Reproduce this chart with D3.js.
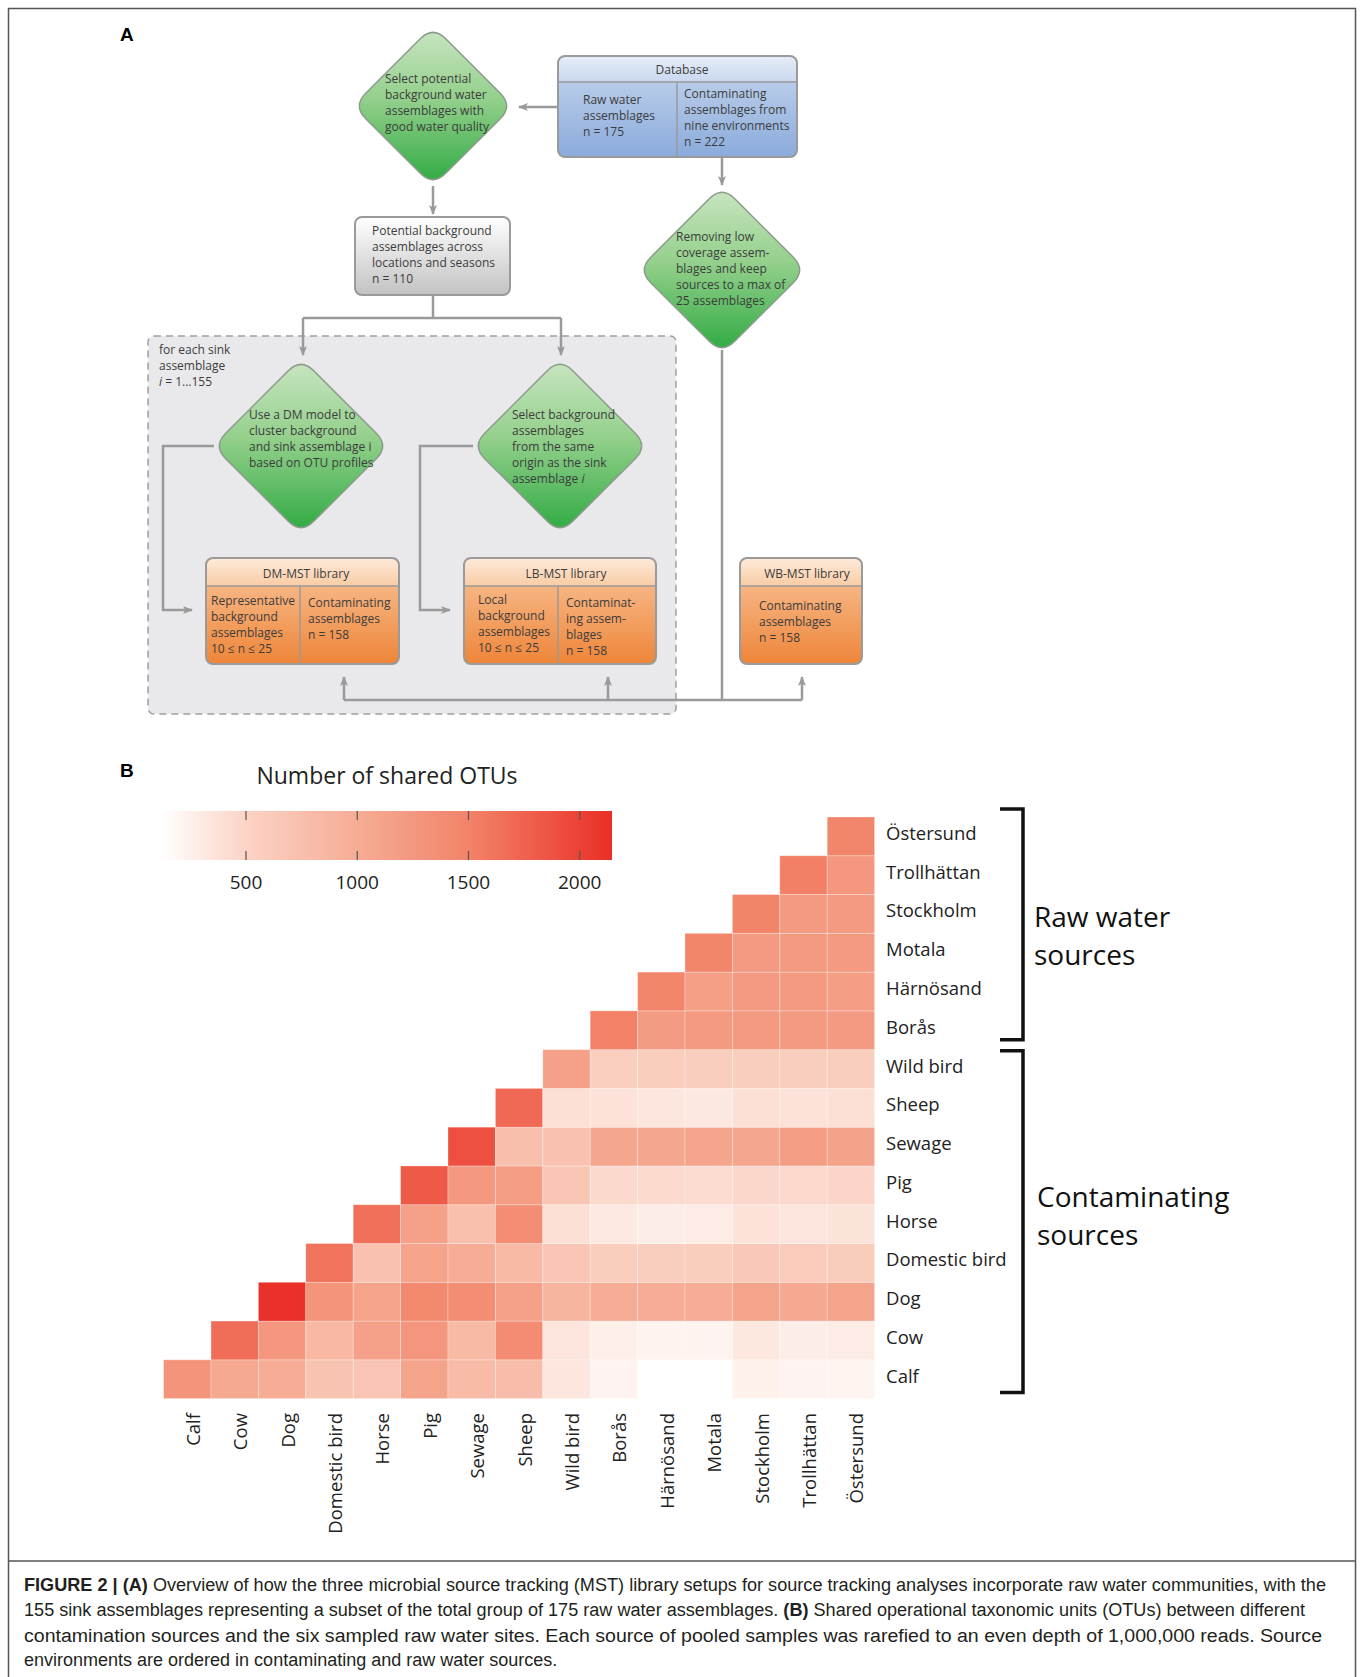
<!DOCTYPE html>
<html>
<head>
<meta charset="utf-8">
<script src="https://cdn.jsdelivr.net/npm/d3@7"></script>
<style>
  html, body { margin: 0; padding: 0; background: #fff; }
  svg { display: block; }
</style>
</head>
<body>
<svg id="fig" width="1360" height="1677"></svg>
<script>
// Sources, in the order used on both axes (bottom-left to top-right)
var SOURCES = ["Calf", "Cow", "Dog", "Domestic bird", "Horse", "Pig", "Sewage",
    "Sheep", "Wild bird", "Borås", "Härnösand", "Motala", "Stockholm",
    "Trollhättan", "Östersund"];

// Shared OTUs: each row starts at its own diagonal and runs to Östersund
var SHARED_CALF = [1290, 1040, 1000, 705, 690, 1100, 810, 785, 335, 220, 118, 118, 240, 220, 215];
var SHARED_COW = [1670, 1260, 845, 1150, 1275, 830, 1400, 350, 260, 225, 225, 320, 270, 290];
var SHARED_DOG = [2120, 1300, 1110, 1425, 1390, 1150, 900, 1000, 1000, 1000, 1100, 1050, 1100];
var SHARED_DOMESTIC_BIRD = [1630, 715, 1110, 1000, 820, 680, 580, 570, 580, 640, 600, 590];
var SHARED_HORSE = [1650, 1140, 750, 1375, 390, 310, 270, 280, 370, 340, 360];
var SHARED_PIG = [1815, 1250, 1190, 665, 450, 440, 420, 470, 460, 480];
var SHARED_SEWAGE = [1890, 760, 715, 1080, 1080, 1090, 1080, 1190, 1120];
var SHARED_SHEEP = [1700, 390, 370, 335, 315, 390, 370, 390];
var SHARED_WILD_BIRD = [1150, 550, 580, 560, 560, 570, 560];
var SHARED_BORAS = [1520, 1200, 1230, 1230, 1230, 1220];
var SHARED_HARNOSAND = [1490, 1160, 1220, 1230, 1180];
var SHARED_MOTALA = [1480, 1220, 1230, 1230];
var SHARED_STOCKHOLM = [1500, 1230, 1230];
var SHARED_TROLLHATTAN = [1530, 1260];
var SHARED_OSTERSUND = [1470];

var SHARED = [SHARED_CALF, SHARED_COW, SHARED_DOG, SHARED_DOMESTIC_BIRD,
    SHARED_HORSE, SHARED_PIG, SHARED_SEWAGE, SHARED_SHEEP, SHARED_WILD_BIRD,
    SHARED_BORAS, SHARED_HARNOSAND, SHARED_MOTALA, SHARED_STOCKHOLM,
    SHARED_TROLLHATTAN, SHARED_OSTERSUND];

var LEGEND_TICKS = [500, 1000, 1500, 2000];
var LEGEND_DOMAIN = [118, 2145];
var COLOR_STOPS = [118, 500, 1000, 1500, 2145];
var COLOR_RANGE = ["#ffffff", "#fbd3c5", "#f6ac95", "#f28469", "#ea2e26"];

var GROUP_RAW = ["Raw water", "sources"];
var GROUP_CONTAMINATING = ["Contaminating", "sources"];

var CAPTION = [
    [["b", "FIGURE 2 | (A)"], ["n", " Overview of how the three microbial source tracking (MST) library setups for source tracking analyses incorporate raw water communities, with the"]],
    [["n", "155 sink assemblages representing a subset of the total group of 175 raw water assemblages. "], ["b", "(B)"], ["n", " Shared operational taxonomic units (OTUs) between different"]],
    [["n", "contamination sources and the six sampled raw water sites. Each source of pooled samples was rarefied to an even depth of 1,000,000 reads. Source"]],
    [["n", "environments are ordered in contaminating and raw water sources."]]
];

var svg = d3.select("#fig");
var defs = svg.append("defs");
var SANS = "'Open Sans', 'Noto Sans', sans-serif";
var ARIAL = "'Liberation Sans', Arial, sans-serif";
var LINE = "#9a9a9a";
var INK = "#3c3c3c";

function vGradient(id, stops) {
    var g = defs.append("linearGradient").attr("id", id)
        .attr("x1", 0).attr("y1", 0).attr("x2", 0).attr("y2", 1);
    stops.forEach(function (s) {
        g.append("stop").attr("offset", s[0]).attr("stop-color", s[1]);
    });
}

vGradient("green", [[0, "#c6e4bf"], [0.45, "#94d08c"], [1, "#33ac45"]]);
vGradient("blueHead", [[0, "#e6edf8"], [1, "#c9d7ee"]]);
vGradient("blueBody", [[0, "#c8d7ef"], [1, "#8aabdb"]]);
vGradient("grayBox", [[0, "#ffffff"], [1, "#c2c2c2"]]);
vGradient("orangeHead", [[0, "#feeadb"], [1, "#f9cca4"]]);
vGradient("orangeBody", [[0, "#f9c69c"], [1, "#ee8539"]]);

defs.append("marker").attr("id", "arrow")
    .attr("viewBox", "0 0 10 10").attr("refX", 9).attr("refY", 5)
    .attr("markerWidth", 10).attr("markerHeight", 10)
    .attr("markerUnits", "userSpaceOnUse").attr("orient", "auto")
  .append("path").attr("d", "M0,1 L10,5 L0,9 L2.5,5 Z").attr("fill", LINE);

// ---------- frame ----------
svg.append("rect").attr("x", 8.5).attr("y", 8.5).attr("width", 1347).attr("height", 1720)
    .attr("fill", "none").attr("stroke", "#555").attr("stroke-width", 1.5);
svg.append("line").attr("x1", 8.5).attr("x2", 1355.5).attr("y1", 1561).attr("y2", 1561)
    .attr("stroke", "#555").attr("stroke-width", 1.5);

svg.append("text").attr("x", 120).attr("y", 34).attr("dominant-baseline", "central")
    .attr("font-family", ARIAL).attr("font-weight", "bold").attr("font-size", 19)
    .text("A");
svg.append("text").attr("x", 120).attr("y", 770).attr("dominant-baseline", "central")
    .attr("font-family", ARIAL).attr("font-weight", "bold").attr("font-size", 19)
    .text("B");

// ---------- panel A: flow chart ----------
var flow = svg.append("g");

// one text block; a line is a string or a list of segments, "~" marks italics
function lines(x, ys, parts, size) {
    var t = flow.append("text").attr("font-family", SANS).attr("font-size", size || 12)
        .attr("fill", INK);
    parts.forEach(function (p, i) {
        var line = t.append("tspan").attr("x", x).attr("y", ys[i])
            .attr("dominant-baseline", "central");
        (Array.isArray(p) ? p : [p]).forEach(function (seg) {
            var italic = seg.charAt(0) === "~";
            line.append("tspan").attr("font-style", italic ? "italic" : null)
                .text(italic ? seg.slice(1) : seg);
        });
    });
    return t;
}

function stack(y0, n) {
    return d3.range(n).map(function (i) { return y0 + i * 16; });
}

function diamond(cx, cy, h, r) {
    var pts = [[cx, cy - h], [cx + h, cy], [cx, cy + h], [cx - h, cy]];
    var k = r / (h * Math.SQRT2);
    var d = "";
    pts.forEach(function (p, i) {
        var prev = pts[(i + 3) % 4], next = pts[(i + 1) % 4];
        var a = [p[0] + (prev[0] - p[0]) * k, p[1] + (prev[1] - p[1]) * k];
        var b = [p[0] + (next[0] - p[0]) * k, p[1] + (next[1] - p[1]) * k];
        d += (i === 0 ? "M" : "L") + a[0] + "," + a[1] + "Q" + p[0] + "," + p[1] + " " + b[0] + "," + b[1];
    });
    flow.append("path").attr("d", d + "Z").attr("fill", "url(#green)")
        .attr("stroke", "#8c9c8c").attr("stroke-width", 1.5);
}

function topRounded(x, y, w, h, r) {
    return "M" + x + "," + (y + h) + "L" + x + "," + (y + r) + "Q" + x + "," + y + " " + (x + r) + "," + y +
        "L" + (x + w - r) + "," + y + "Q" + (x + w) + "," + y + " " + (x + w) + "," + (y + r) +
        "L" + (x + w) + "," + (y + h) + "Z";
}

function box(x, y, w, h, headH, split, headFill, bodyFill) {
    flow.append("rect").attr("x", x).attr("y", y).attr("width", w).attr("height", h)
        .attr("rx", 7).attr("fill", bodyFill);
    if (headH) {
        flow.append("path").attr("d", topRounded(x, y, w, headH, 7)).attr("fill", headFill);
        flow.append("line").attr("x1", x).attr("x2", x + w).attr("y1", y + headH).attr("y2", y + headH)
            .attr("stroke", LINE).attr("stroke-width", 1.5);
    }
    if (split) {
        flow.append("line").attr("x1", split).attr("x2", split).attr("y1", y + headH).attr("y2", y + h)
            .attr("stroke", LINE).attr("stroke-width", 1.5);
    }
    flow.append("rect").attr("x", x).attr("y", y).attr("width", w).attr("height", h)
        .attr("rx", 7).attr("fill", "none").attr("stroke", LINE).attr("stroke-width", 2);
}

function path(pts, arrow) {
    flow.append("path").attr("d", d3.line()(pts)).attr("fill", "none")
        .attr("stroke", LINE).attr("stroke-width", 2.5)
        .attr("marker-end", arrow ? "url(#arrow)" : null);
}

// dashed "for each sink" area
flow.append("rect").attr("x", 148).attr("y", 336).attr("width", 528).attr("height", 378)
    .attr("rx", 6).attr("fill", "#e9e9ec").attr("stroke", "#a0a0a4")
    .attr("stroke-width", 1.5).attr("stroke-dasharray", "7,5");

// connectors
path([[558, 107], [519, 107]], true);
path([[433, 186], [433, 214]], true);
path([[722, 157], [722, 185]], true);
path([[433, 295], [433, 318]]);
path([[303, 318], [561, 318]]);
path([[303, 318], [303, 355]], true);
path([[561, 318], [561, 355]], true);
path([[214, 446], [163, 446], [163, 610], [192, 610]], true);
path([[473, 446], [420, 446], [420, 610], [450, 610]], true);
path([[722, 350], [722, 700]]);
path([[344, 700], [802, 700]]);
path([[344, 700], [344, 677]], true);
path([[608, 700], [608, 677]], true);
path([[802, 700], [802, 677]], true);

// nodes
diamond(433, 106, 80, 18);
lines(385, stack(78, 4), ["Select potential", "background water", "assemblages with", "good water quality"]);

box(558, 56, 239, 101, 26, 677, "url(#blueHead)", "url(#blueBody)");
lines(682, [69], ["Database"]).attr("text-anchor", "middle");
lines(583, stack(99, 3), ["Raw water", "assemblages", "n = 175"]);
lines(684, stack(93, 4), ["Contaminating", "assemblages from", "nine environments", "n = 222"]);

box(355, 217, 155, 78, 0, 0, null, "url(#grayBox)");
lines(372, stack(230, 4), ["Potential background", "assemblages across", "locations and seasons", "n = 110"]);

diamond(722, 270, 84, 18);
lines(676, stack(236, 5), ["Removing low", "coverage assem-", "blages and keep", "sources to a max of", "25 assemblages"]);

lines(159, stack(349, 3), ["for each sink", "assemblage", ["~i", " = 1...155"]]);

diamond(301, 446, 88, 18);
lines(249, stack(414, 4), ["Use a DM model to", "cluster background", "and sink assemblage i", "based on OTU profiles"]);

diamond(560, 446, 88, 18);
lines(512, stack(414, 5), ["Select background", "assemblages", "from the same", "origin as the sink", ["assemblage ", "~i"]]);

box(206, 558, 193, 106, 28, 300, "url(#orangeHead)", "url(#orangeBody)");
lines(306, [573], ["DM-MST library"]).attr("text-anchor", "middle");
lines(211, stack(600, 4), ["Representative", "background", "assemblages", "10 ≤ n ≤ 25"]);
lines(308, stack(602, 3), ["Contaminating", "assemblages", "n = 158"]);

box(464, 558, 192, 106, 28, 558, "url(#orangeHead)", "url(#orangeBody)");
lines(566, [573], ["LB-MST library"]).attr("text-anchor", "middle");
lines(478, stack(599, 4), ["Local", "background", "assemblages", "10 ≤ n ≤ 25"]);
lines(566, stack(602, 4), ["Contaminat-", "ing assem-", "blages", "n = 158"]);

box(740, 558, 122, 106, 28, 0, "url(#orangeHead)", "url(#orangeBody)");
lines(807, [573], ["WB-MST library"]).attr("text-anchor", "middle");
lines(759, stack(605, 3), ["Contaminating", "assemblages", "n = 158"]);

// ---------- panel B: heat map ----------
var color = d3.scaleLinear().domain(COLOR_STOPS).range(COLOR_RANGE).clamp(true);

var x = d3.scaleBand().domain(SOURCES).range([163.6, 874.6]);
var y = d3.scaleBand().domain(SOURCES.slice().reverse()).range([817, 1398.6]);

var cells = [];
SHARED.forEach(function (row, i) {
    row.forEach(function (v, k) {
        cells.push({ row: SOURCES[i], col: SOURCES[i + k], value: v });
    });
});

var heat = svg.append("g");
heat.selectAll("rect").data(cells).enter().append("rect")
    .attr("x", function (d) { return x(d.col); })
    .attr("y", function (d) { return y(d.row); })
    .attr("width", x.bandwidth())
    .attr("height", y.bandwidth())
    .attr("fill", function (d) { return color(d.value); })
    .attr("stroke", "rgba(255,255,255,0.35)").attr("stroke-width", 0.8);

heat.selectAll(".rowLabel").data(SOURCES).enter().append("text")
    .attr("x", 886)
    .attr("y", function (d) { return y(d) + y.bandwidth() / 2 - 4; })
    .attr("dominant-baseline", "central")
    .attr("font-family", SANS).attr("font-size", 18.5).attr("fill", "#222")
    .text(function (d) { return d; });

heat.selectAll(".colLabel").data(SOURCES).enter().append("text")
    .attr("transform", function (d) {
        return "translate(" + (x(d) + x.bandwidth() / 2 + 5) + ",1413) rotate(-90)";
    })
    .attr("text-anchor", "end").attr("dominant-baseline", "central")
    .attr("font-family", SANS).attr("font-size", 18.5).attr("fill", "#222")
    .text(function (d) { return d; });

// group brackets
function bracket(top, bottom, label, lx, ly) {
    heat.append("path")
        .attr("d", "M1000," + top + "H1023V" + bottom + "H1000")
        .attr("fill", "none").attr("stroke", "#111").attr("stroke-width", 3.5);
    var t = heat.append("text").attr("font-family", SANS).attr("font-size", 28).attr("fill", "#111");
    label.forEach(function (s, i) {
        t.append("tspan").attr("x", lx).attr("y", ly + i * 38).attr("dominant-baseline", "central").text(s);
    });
}
bracket(y("Östersund") - 8, y("Borås") + y.bandwidth() - 10, GROUP_RAW, 1034, 916);
bracket(y("Wild bird") + 1, y("Calf") + y.bandwidth() - 6, GROUP_CONTAMINATING, 1037, 1196);

// legend
var lx = d3.scaleLinear().domain(LEGEND_DOMAIN).range([161, 612]);
var grad = defs.append("linearGradient").attr("id", "legend");
d3.range(0, 1.0001, 0.05).forEach(function (t) {
    var v = LEGEND_DOMAIN[0] + t * (LEGEND_DOMAIN[1] - LEGEND_DOMAIN[0]);
    grad.append("stop").attr("offset", t).attr("stop-color", color(v));
});
var legend = svg.append("g");
legend.append("text").attr("x", 387).attr("y", 775).attr("text-anchor", "middle")
    .attr("dominant-baseline", "central").attr("font-family", SANS).attr("font-size", 23)
    .attr("fill", "#222").text("Number of shared OTUs");
legend.append("rect").attr("x", lx.range()[0]).attr("y", 811)
    .attr("width", lx.range()[1] - lx.range()[0]).attr("height", 49)
    .attr("fill", "url(#legend)");
var tick = legend.selectAll(".tick").data(LEGEND_TICKS).enter().append("g")
    .attr("transform", function (d) { return "translate(" + lx(d) + ",0)"; });
tick.append("line").attr("y1", 811).attr("y2", 820).attr("stroke", "#555").attr("stroke-width", 1.2);
tick.append("line").attr("y1", 851).attr("y2", 860).attr("stroke", "#555").attr("stroke-width", 1.2);
tick.append("text").attr("y", 882).attr("text-anchor", "middle").attr("dominant-baseline", "central")
    .attr("font-family", SANS).attr("font-size", 19).attr("fill", "#222")
    .text(function (d) { return d; });

// ---------- caption ----------
var capY = [1585, 1610, 1636, 1660];
var capWidth = [1302, 1281, 1298, null];
CAPTION.forEach(function (parts, i) {
    var t = svg.append("text").attr("x", 24).attr("y", capY[i]).attr("dominant-baseline", "central")
        .attr("font-family", ARIAL).attr("font-size", 18).attr("fill", "#231f20");
    if (capWidth[i]) {
        t.attr("textLength", capWidth[i]).attr("lengthAdjust", "spacingAndGlyphs");
    }
    parts.forEach(function (p) {
        t.append("tspan").attr("font-weight", p[0] === "b" ? "bold" : null).text(p[1]);
    });
});
</script>
</body>
</html>
